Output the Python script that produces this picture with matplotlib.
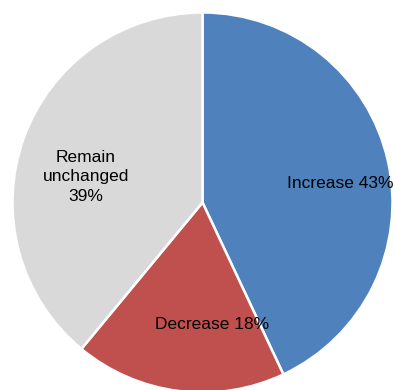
import matplotlib
matplotlib.use("Agg")
import matplotlib.pyplot as plt

categories = ["Increase", "Decrease", "Remain\nunchanged"]
shares = [43, 18, 39]
colors = ["#4F81BD", "#C0504D", "#D9D9D9"]
label_pos = [(0.725, 0.10), (0.05, -0.64), (-0.615, 0.135)]

W, H = 395, 390
fig = plt.figure(figsize=(W / 100, H / 100), dpi=100)
cx, cy, r = 202.5, 202.5, 190
ax = fig.add_axes([(cx - r) / W, (H - cy - r) / H, 2 * r / W, 2 * r / H])
ax.pie(shares, colors=colors, startangle=90, counterclock=False,
       radius=1, wedgeprops=dict(edgecolor="white", linewidth=1.8))
ax.set_xlim(-1, 1)
ax.set_ylim(-1, 1)
ax.set_aspect("auto")
ax.axis("off")

for name, val, (x, y) in zip(categories, shares, label_pos):
    sep = "\n" if "\n" in name else " "
    ax.text(x, y, f"{name}{sep}{val}%", ha="center", va="center",
            fontsize=12.5, family="Liberation Sans", color="black",
            linespacing=1.4)

fig.savefig("out.png", dpi=100)
